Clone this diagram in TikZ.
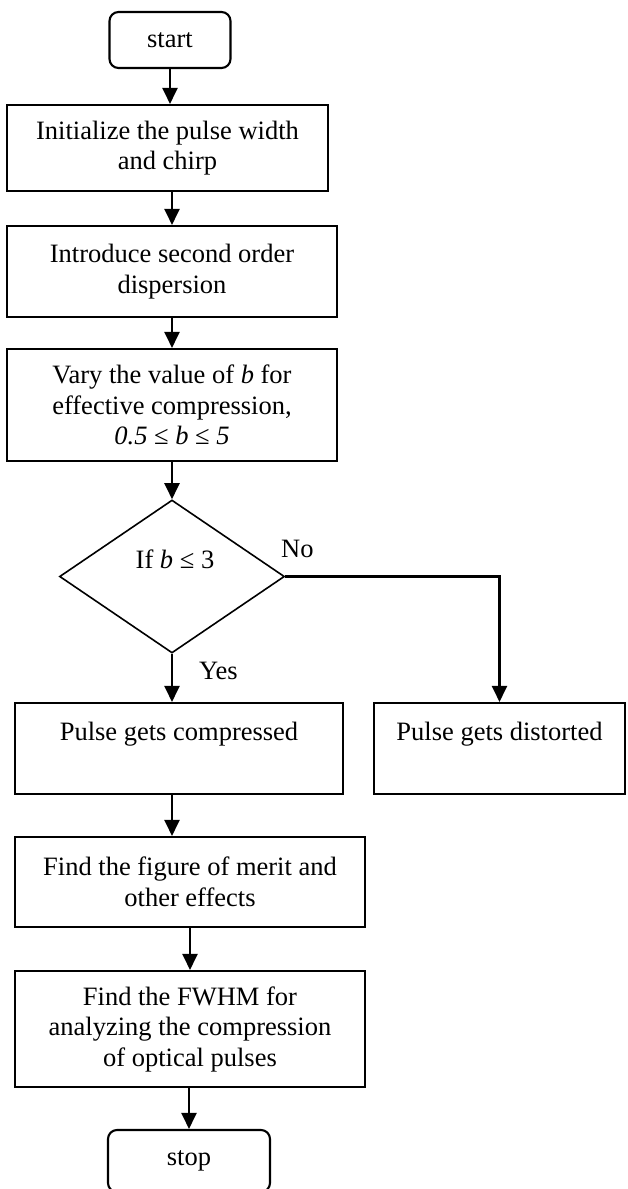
\documentclass[tikz,border=0pt]{standalone}
\usepackage{fontspec}
\setmainfont{Liberation Serif}
\usetikzlibrary{shapes.geometric,arrows.meta}

\begin{document}
\begin{tikzpicture}[x=1pt,y=-1pt]
            \useasboundingbox (0,0) rectangle (627,1189);
            \begin{scope}[every node/.style={draw=black,line width=2.1pt,align=center,inner sep=0pt,font=\fontsize{26.5pt}{30.5pt}\selectfont}]
                \node[rounded corners=9pt,minimum width=121pt,minimum height=56pt] (1) at (170,40) {start};
                \node[minimum width=321pt,minimum height=86pt] (2) at (167.5,148) {Initialize the pulse width\\and chirp};
                \node[minimum width=330pt,minimum height=91pt] (3) at (172,271.5) {Introduce second order\\dispersion};
                \node[minimum width=330pt,minimum height=112pt] (4) at (172,405) {Vary the value of \textit{b} for\\effective compression,\\\textit{0.5} ≤ \textit{b} ≤ \textit{5}};

                \node[diamond,line width=1.6pt,minimum width=225pt,minimum height=153pt] (5) at (172,576.5) {};

                \node[minimum width=328pt,minimum height=91pt,text depth=35pt] (6) at (179,748.5) {Pulse gets compressed};
                \node[minimum width=251pt,minimum height=91pt,text depth=35pt] (7) at (499.5,748.5) {Pulse gets distorted};

                \node[minimum width=350pt,minimum height=90pt] (8) at (190,882) {Find the figure of merit and\\other effects};
                \node[minimum width=350pt,minimum height=116pt] (9) at (190,1029) {Find the FWHM for\\analyzing the compression\\of optical pulses};

                \node[rounded corners=9pt,minimum width=162pt,minimum height=62pt] (10) at (189,1161) {stop};
            \end{scope}
            \begin{scope}[every node/.style={inner sep=0pt,font=\fontsize{26.5pt}{30.5pt}\selectfont}]
                \node[anchor=base] (11) at (175,568) {If \textit{b} ≤ 3};
                \node[anchor=base west] (12) at (281,557) {No};
                \node[anchor=base west] (13) at (199,679) {Yes};
            \end{scope}
            \begin{scope}[line width=2.1pt,every edge/.style={draw,line width=2.1pt},>={Triangle[length=16pt,width=15pt]}]
                \path [->] (1) edge (1 |- 2.north);
                \path [->] (2.south -| 3) edge (3);
                \path [->] (3) edge (4);
                \path [->] (4) edge (5);

                \path [->] (5) edge (5 |- 6.north);
                \draw [->] (5.east) -| (7);

                \path [->] (6.south -| 5) edge (5 |- 8.north);
                \path [->] (8) edge (9);
                \path [->] (9.south -| 10) edge (10);
            \end{scope}
        \end{tikzpicture}
\end{document}
